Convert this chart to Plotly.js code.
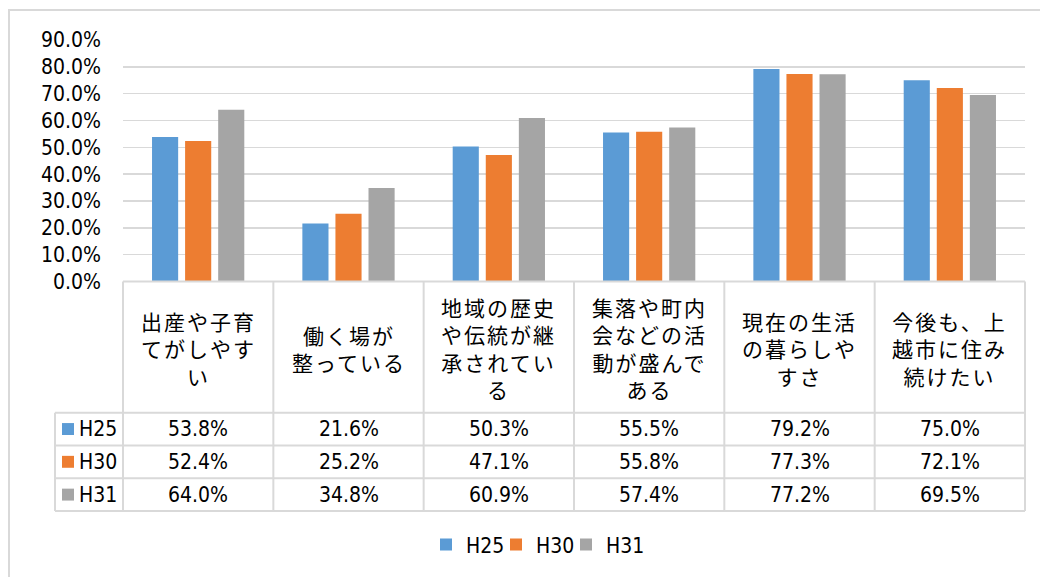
<!DOCTYPE html>
<html>
<head>
<meta charset="utf-8">
<script src="https://cdn.plot.ly/plotly-3.0.1.min.js"></script>
<style>
  html, body { margin: 0; padding: 0; background: #ffffff; }
  #wrap { position: relative; width: 1040px; height: 577px; overflow: hidden; }
  #frame { position: absolute; left: 8px; top: 9px; width: 1200px; height: 700px;
           border-left: 2px solid #d9d9d9; border-top: 2px solid #d9d9d9; }
  #chart { position: absolute; left: 0; top: 0; width: 1040px; height: 577px; }
</style>
</head>
<body>
<div id="wrap"><div id="frame"></div><div id="chart"></div></div>
<script>
// ---------------- data ----------------
const categories = [
  "出産や子育てがしやすい",
  "働く場が整っている",
  "地域の歴史や伝統が継承されている",
  "集落や町内会などの活動が盛んである",
  "現在の生活の暮らしやすさ",
  "今後も、上越市に住み続けたい"
];
const categoryLabels = [
  "出産や子育<br>てがしやす<br>い",
  "働く場が<br>整っている",
  "地域の歴史<br>や伝統が継<br>承されてい<br>る",
  "集落や町内<br>会などの活<br>動が盛んで<br>ある",
  "現在の生活<br>の暮らしや<br>すさ",
  "今後も、上<br>越市に住み<br>続けたい"
];
const seriesNames = ["H25", "H30", "H31"];
const h25 = [0.538, 0.216, 0.503, 0.555, 0.792, 0.750];
const h30 = [0.524, 0.252, 0.471, 0.558, 0.773, 0.721];
const h31 = [0.640, 0.348, 0.609, 0.574, 0.772, 0.695];
const tickValues = [0, 0.1, 0.2, 0.3, 0.4, 0.5, 0.6, 0.7, 0.8, 0.9];
const tickLabels = ["0.0%", "10.0%", "20.0%", "30.0%", "40.0%", "50.0%", "60.0%", "70.0%", "80.0%", "90.0%"];

// ---------------- style / layout ----------------
const colors = ["#5B9BD5", "#ED7D31", "#A5A5A5"];
const legendWidths = [25, 25, 45];
const seriesValues = [h25, h30, h31];
const numFont = "'Liberation Sans Narrow', 'DejaVu Sans Condensed', 'Noto Sans CJK JP', sans-serif";
const jpFont = "'Noto Sans CJK JP', 'Noto Sans CJK SC', sans-serif";
const lineColor = "#d9d9d9";

const FIG_W = 1040, FIG_H = 577;
const L = 123, R = 1025, T = 40, B = 514;      // plot area (px)
const W = R - L, H = B - T;
const AXIS_ZERO = 283;                          // pixel of 0% line / table top
const HEADER_BOTTOM = 415;
const ROW_H = 33;
const TABLE_LEFT = 55;

const px = x => (x - L) / W;                    // pixel -> paper x
const py = y => (B - y) / H;                    // pixel -> paper y

const n = categories.length;

// wider letter spacing for the Japanese header labels (annotations 0..n-1)
const st = document.createElement("style");
st.textContent = categories.map((c, i) => `#chart g.annotation[data-index="${i}"] text`).join(",") +
                 "{letter-spacing:2px;}";
document.head.appendChild(st);

const traces = seriesNames.map((name, s) => ({
  type: "bar",
  name: name,
  x: categories,
  y: seriesValues[s],
  legendwidth: legendWidths[s],
  marker: { color: colors[s], line: { width: 0 } },
  hoverinfo: "x+y+name"
}));

const shapes = [];
const annotations = [];
const tableLine = { color: lineColor, width: 2 };

// horizontal table lines
shapes.push({ type: "line", xref: "paper", yref: "paper", x0: 0, x1: 1, y0: py(AXIS_ZERO), y1: py(AXIS_ZERO), line: tableLine });
for (let r = 0; r <= seriesNames.length; r++) {
  const y = HEADER_BOTTOM + r * ROW_H;
  shapes.push({ type: "line", xref: "paper", yref: "paper", x0: px(TABLE_LEFT), x1: 1, y0: py(y), y1: py(y), line: tableLine });
}
// vertical table lines at category boundaries
for (let k = 0; k <= n; k++) {
  shapes.push({ type: "line", xref: "paper", yref: "paper", x0: k / n, x1: k / n,
                y0: py(AXIS_ZERO), y1: py(B), line: tableLine });
}
// left edge of the row-label column
shapes.push({ type: "line", xref: "paper", yref: "paper", x0: px(TABLE_LEFT), x1: px(TABLE_LEFT),
              y0: py(HEADER_BOTTOM), y1: py(B), line: tableLine });

// header labels
categories.forEach((c, i) => {
  annotations.push({
    xref: "x", yref: "paper", x: c, y: py((AXIS_ZERO + HEADER_BOTTOM) / 2 + 1),
    text: categoryLabels[i], showarrow: false, xanchor: "center", yanchor: "middle",
    align: "center", font: { family: jpFont, size: 21, color: "#000000" }
  });
});

// rows
seriesNames.forEach((name, s) => {
  const yc = HEADER_BOTTOM + s * ROW_H + ROW_H / 2;
  // legend key square
  shapes.push({ type: "rect", xref: "paper", yref: "paper",
                x0: px(62), x1: px(74), y0: py(yc - 6), y1: py(yc + 6),
                fillcolor: colors[s], line: { width: 0 } });
  annotations.push({
    xref: "paper", yref: "paper", x: px(77), y: py(yc), text: name, showarrow: false,
    xanchor: "left", yanchor: "middle", font: { family: numFont, size: 21, color: "#000000" }
  });
  categories.forEach((c, i) => {
    annotations.push({
      xref: "x", yref: "paper", x: c, y: py(yc),
      text: (seriesValues[s][i] * 100).toFixed(1) + "%", showarrow: false,
      xanchor: "center", yanchor: "middle",
      font: { family: numFont, size: 21, color: "#000000" }
    });
  });
});

const layout = {
  width: FIG_W, height: FIG_H,
  margin: { l: L, r: FIG_W - R, t: T, b: FIG_H - B, pad: 0 },
  paper_bgcolor: "rgba(0,0,0,0)",
  plot_bgcolor: "rgba(0,0,0,0)",
  barmode: "group",
  bargap: 0.34,
  bargroupgap: 0.21,
  showlegend: true,
  legend: {
    orientation: "h", x: px(426), xanchor: "left", y: py(548), yanchor: "middle",
    font: { family: numFont, size: 21, color: "#000000" }, traceorder: "normal",
    bgcolor: "rgba(0,0,0,0)"
  },
  xaxis: {
    type: "category", range: [-0.5, n - 0.5], showticklabels: false, ticks: "",
    showgrid: false, zeroline: false, showline: false, fixedrange: true
  },
  yaxis: {
    domain: [py(AXIS_ZERO), 1], range: [0, 0.9],
    tickmode: "array", tickvals: tickValues, ticktext: tickLabels,
    ticks: "", ticklabelstandoff: 21,
    showgrid: true, gridcolor: lineColor, gridwidth: 1.5,
    zeroline: false, showline: false, fixedrange: true,
    tickfont: { family: numFont, size: 21, color: "#000000" }
  },
  shapes: shapes,
  annotations: annotations
};

Plotly.newPlot("chart", traces, layout, { displayModeBar: false, staticPlot: true });
</script>
</body>
</html>
